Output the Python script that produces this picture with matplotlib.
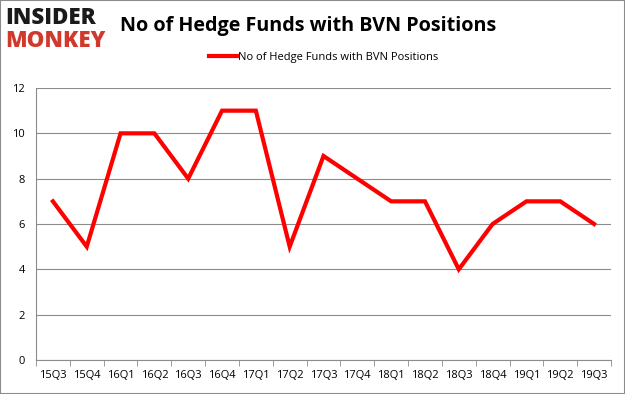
import matplotlib.pyplot as plt
import matplotlib.patches as patches

# Data
quarters = ['15Q3', '15Q4', '16Q1', '16Q2', '16Q3', '16Q4', '17Q1', '17Q2', '17Q3',
            '17Q4', '18Q1', '18Q2', '18Q3', '18Q4', '19Q1', '19Q2', '19Q3']
funds = [7, 5, 10, 10, 8, 11, 11, 5, 9, 8, 7, 7, 4, 6, 7, 7, 6]
yticks = [0, 2, 4, 6, 8, 10, 12]

plt.rcParams['font.family'] = ['Open Sans', 'DejaVu Sans']

fig = plt.figure(figsize=(6.25, 3.94), dpi=100)
ax = fig.add_axes([36 / 625, 34 / 394, 575 / 625, 272 / 394])

xs = list(range(len(quarters)))
ax.plot(xs, funds, color='#ff0000', linewidth=3, label='No of Hedge Funds with BVN Positions',
        solid_joinstyle='miter')

ax.set_xlim(-0.5, len(quarters) - 0.5)
ax.set_ylim(0, 12)
ax.set_yticks(yticks)
ax.set_xticks(xs)
ax.set_xticklabels(quarters)
ax.grid(axis='y', color='#8c8c8c', linewidth=0.8)
ax.set_axisbelow(True)
for side in ['top', 'right']:
    ax.spines[side].set_visible(False)
ax.spines['left'].set_color('#8c8c8c')
ax.spines['bottom'].set_color('#8c8c8c')
ax.tick_params(axis='y', length=0, labelsize=8, pad=8)
ax.tick_params(axis='x', labelsize=8, pad=7, direction='out', length=4, color='#8c8c8c')
# minor ticks at bin boundaries like the original
ax.set_xticks([i - 0.5 for i in range(len(quarters) + 1)], minor=True)
ax.tick_params(axis='x', which='minor', length=4, color='#8c8c8c')
ax.tick_params(axis='x', which='major', length=0)

fig.text(0.192, 0.935, 'No of Hedge Funds with BVN Positions', fontsize=14.2, fontweight='bold',
         va='center', ha='left')
fig.text(0.008, 0.955, 'INSIDER', fontsize=16, fontweight='heavy', color='#1a1a1a', va='center')
fig.text(0.008, 0.895, 'MONKEY', fontsize=16, fontweight='heavy', color='#d0392b', va='center')

ax.legend(loc='upper center', bbox_to_anchor=(0.5, 1.17), frameon=False, fontsize=8,
          handlelength=2.5, handletextpad=0.1)

fig.patches.append(patches.Rectangle((0, 0), 1, 1, transform=fig.transFigure, fill=False,
                                     edgecolor='#8c8c8c', linewidth=1.5))

fig.savefig('out.png', dpi=100)
